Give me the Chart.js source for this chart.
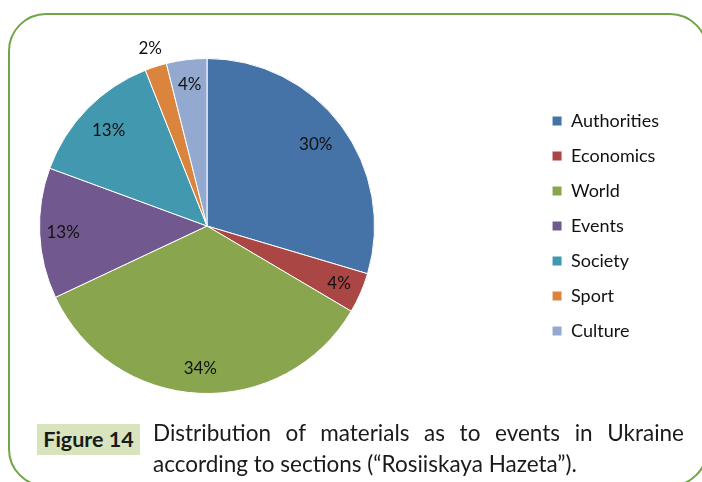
<!DOCTYPE html>
<html>
<head>
<meta charset="utf-8">
<script src="https://cdn.jsdelivr.net/npm/chart.js@4"></script>
<style>
  html, body { margin: 0; padding: 0; background: #fff; }
  body { width: 702px; height: 482px; position: relative; overflow: hidden; font-family: Lato, "Open Sans", sans-serif; }
  .frame { position: absolute; left: 8px; top: 13px; width: 700px; height: 474px; border: 2px solid #72a544; border-radius: 38px; box-sizing: border-box; }
  .chart-box { position: absolute; left: -121px; top: 0; width: 823px; height: 420px; }
  .fig-label { position: absolute; left: 37px; top: 424px; width: 103px; height: 31px; background: #d7e4bd; color: #1a1a1a; font-weight: bold; font-size: 21.5px; line-height: 31px; text-align: center; }
  .caption { position: absolute; left: 153px; top: 417px; width: 531px; color: #1a1a1a; font-size: 22.5px; line-height: 31px; }
  .caption .l1 { text-align: justify; text-align-last: justify; }
</style>
</head>
<body>
<div class="frame"></div>
<div class="chart-box"><canvas id="pieChart"></canvas></div>
<div class="fig-label">Figure 14</div>
<div class="caption">
  <div class="l1">Distribution of materials as to events in Ukraine</div>
  <div>according to sections (“Rosiiskaya Hazeta”).</div>
</div>
<script>
const sections = ['Authorities', 'Economics', 'World', 'Events', 'Society', 'Sport', 'Culture'];
const shares = [29.6, 3.9, 34.5, 12.6, 13.4, 2.1, 3.9];
const percentLabels = ['30%', '4%', '34%', '13%', '13%', '2%', '4%'];
const sliceColors = ['#4572a7', '#aa4643', '#89a54e', '#71588f', '#4198af', '#db843d', '#93a9cf'];

// how far out each % label sits, as a fraction of the radius
const labelRadius = [0.81, 0.86, 0.85, 0.86, 0.82, 1.11, 0.85];

const pctLabels = {
    id: 'pctLabels',
    afterDatasetsDraw(chart) {
        const ctx = chart.ctx;
        const arcs = chart.getDatasetMeta(0).data;
        ctx.save();
        ctx.font = '17px Lato, "Open Sans", sans-serif';
        ctx.fillStyle = '#111';
        ctx.textAlign = 'center';
        ctx.textBaseline = 'middle';
        arcs.forEach((arc, i) => {
            const p = arc.getProps(['x', 'y', 'startAngle', 'endAngle', 'outerRadius'], true);
            const mid = (p.startAngle + p.endAngle) / 2;
            const r = p.outerRadius * labelRadius[i];
            ctx.fillText(percentLabels[i], p.x + Math.cos(mid) * r, p.y + Math.sin(mid) * r);
        });
        ctx.restore();
    }
};

new Chart(document.getElementById('pieChart'), {
    type: 'pie',
    data: {
        labels: sections,
        datasets: [{
            data: shares,
            backgroundColor: sliceColors,
            borderColor: '#ffffff',
            borderWidth: 1
        }]
    },
    options: {
        responsive: true,
        maintainAspectRatio: false,
        animation: false,
        layout: { padding: { top: 58, bottom: 26, left: 0, right: 33 } },
        plugins: {
            legend: {
                position: 'right',
                labels: {
                    boxWidth: 10,
                    boxHeight: 10,
                    padding: 17,
                    color: '#111',
                    font: { family: 'Lato, "Open Sans", sans-serif', size: 18 }
                }
            },
            tooltip: { enabled: false }
        }
    },
    plugins: [pctLabels]
});
</script>
</body>
</html>
